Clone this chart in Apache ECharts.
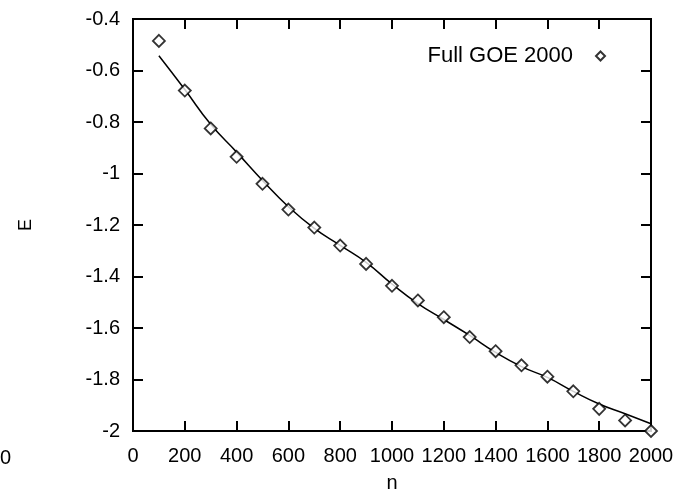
<!DOCTYPE html>
<html>
<head>
<meta charset="utf-8">
<script src="https://cdn.jsdelivr.net/npm/echarts@6/dist/echarts.min.js"></script>
<style>
  html, body { margin: 0; padding: 0; background: #fff; }
  #chart { width: 694px; height: 498px; }
</style>
</head>
<body>
<div id="chart"></div>
<script>
// n values (shared by points and fitted curve)
const nValues = [100, 200, 300, 400, 500, 600, 700, 800, 900, 1000,
                 1100, 1200, 1300, 1400, 1500, 1600, 1700, 1800, 1900, 2000]
// measured energies, "Full GOE 2000"
const goeE = [-0.485, -0.678, -0.825, -0.935, -1.040, -1.140, -1.210, -1.280, -1.351, -1.436,
              -1.493, -1.558, -1.635, -1.690, -1.745, -1.789, -1.846, -1.914, -1.959, -2.0]
// fitted curve
const fitE = [-0.543, -0.674, -0.809, -0.917, -1.027, -1.129, -1.213, -1.279, -1.345, -1.429,
              -1.505, -1.567, -1.629, -1.695, -1.750, -1.792, -1.846, -1.895, -1.933, -1.972]

// axis ranges
const xRange = [0, 2000]
const yRange = [-2, -0.4]

const pair = (xs, ys) => xs.map((x, i) => [x, ys[i]])

const font = 'Liberation Sans, Arial, sans-serif'

// all four sides carry inward ticks, like the original frame
const makeAxis = (extra) => Object.assign({
  type: 'value',
  axisLine: { show: true, onZero: false, lineStyle: { color: '#000', width: 2 } },
  axisTick: { show: true, inside: true, length: 10, lineStyle: { color: '#000', width: 2 } },
  splitLine: { show: false }
}, extra)

let myChart = echarts.init(document.getElementById('chart'))
const option = {
  animation: false,
  backgroundColor: '#fff',
  grid: { left: 133, right: 43, top: 19, bottom: 64, show: true, borderColor: '#000', borderWidth: 2 },
  // stray "0" left over at the bottom-left of the scan
  title: {
    text: '0', left: -5, top: 443,
    textStyle: { fontFamily: font, fontSize: 20, fontWeight: 'normal', color: '#000' }
  },
  legend: {
    data: [{ name: 'Full GOE 2000', icon: 'diamond' }],
    right: 83, top: 40,
    align: 'right',
    itemWidth: 9, itemHeight: 9,
    textStyle: { fontFamily: font, fontSize: 22, color: '#000', padding: [0, 18, 0, 0] }
  },
  xAxis: [
    makeAxis({
      min: xRange[0], max: xRange[1], interval: 200,
      name: 'n', nameLocation: 'middle', nameGap: 42,
      nameTextStyle: { fontFamily: font, fontSize: 20, color: '#000' },
      axisLabel: { fontFamily: font, fontSize: 20, color: '#000', margin: 15, formatter: v => String(v) }
    }),
    makeAxis({ min: xRange[0], max: xRange[1], interval: 200, position: 'top', axisLabel: { show: false } })
  ],
  yAxis: [
    makeAxis({
      min: yRange[0], max: yRange[1], interval: 0.2,
      name: 'E', nameLocation: 'middle', nameGap: 98,
      nameTextStyle: { fontFamily: font, fontSize: 18, color: '#000' },
      axisLabel: { fontFamily: font, fontSize: 20, color: '#000', margin: 13 }
    }),
    makeAxis({ min: yRange[0], max: yRange[1], interval: 0.2, position: 'right', axisLabel: { show: false } })
  ],
  series: [{
    name: 'fit',
    type: 'line',
    data: pair(nValues, fitE),
    smooth: true,
    showSymbol: false,
    lineStyle: { color: '#000', width: 1.5 },
    z: 2,
    // plot frame, drawn from the axis ranges
    markArea: {
      silent: true,
      itemStyle: { color: 'rgba(0,0,0,0)', borderColor: '#000', borderWidth: 2 },
      data: [[{ coord: [xRange[0], yRange[0]] }, { coord: [xRange[1], yRange[1]] }]]
    }
  }, {
    name: 'Full GOE 2000',
    type: 'scatter',
    data: pair(nValues, goeE),
    symbol: 'diamond',
    symbolSize: 12,
    clip: false,
    itemStyle: { color: '#fff', borderColor: '#000', borderWidth: 1.8 },
    z: 3
  }]
}
myChart.setOption(option)
</script>
</body>
</html>
